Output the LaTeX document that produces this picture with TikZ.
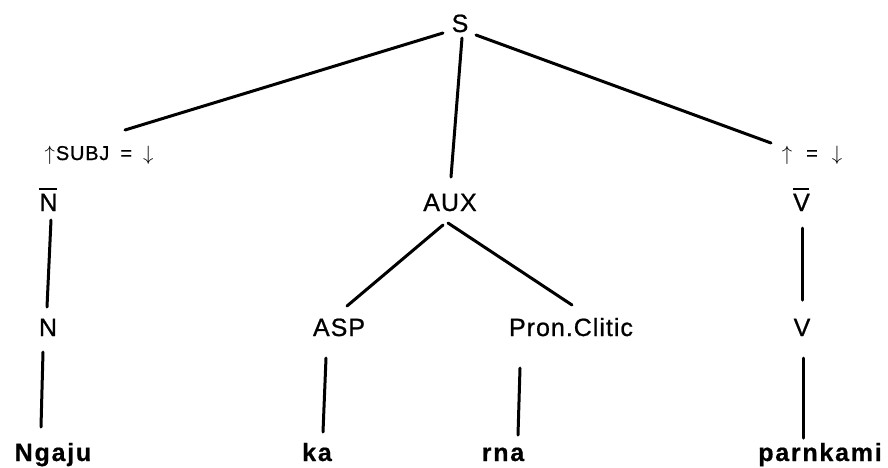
\documentclass[tikz,border=0pt]{standalone}
\usepackage{fontspec}
\setmainfont{Liberation Sans}[LetterSpace=4,FakeBold=0.8]
\newfontfamily\wrdfont{Liberation Sans}[LetterSpace=7,FakeBold=0.6]
\newcommand{\ovl}[1]{\leavevmode\vbox{\hrule height 1.8pt\kern 4pt\hbox{#1\hspace{-1pt}}}}
\begin{document}
\begin{tikzpicture}[x=1pt,y=-1pt,
  lab/.style={inner sep=0pt,anchor=base,font=\fontsize{25}{30}\selectfont},
  ann/.style={inner sep=0pt,anchor=base,font=\fontsize{20}{24}\selectfont},
  wrd/.style={inner sep=0pt,anchor=base,font=\fontsize{25}{30}\selectfont\wrdfont\bfseries},
  edge/.style={line width=3pt,line cap=round}]
\useasboundingbox (0,0) rectangle (888,467);
% nodes
\node[lab] (S) at (460,32) {S};
\node[ann] (subj) at (99,160) {$\uparrow$\hspace{1pt}SUBJ\hspace{11pt}=\hspace{11pt}$\downarrow$};
\node[ann] (eq) at (812,160) {$\uparrow$\hspace{14pt}=\hspace{14pt}$\downarrow$};
\node[lab] (Nbar) at (48,211) {\ovl{N}};
\node[lab] (AUX) at (450,211) {AUX};
\node[lab] (Vbar) at (801,211) {\ovl{V}};
\node[lab] (N) at (48,336) {N};
\node[lab] (ASP) at (339,336) {ASP};
\node[lab] (Pron) at (571,336) {Pron.Clitic};
\node[lab] (V) at (802,336) {V};
\node[wrd] (Ngaju) at (53,461) {Ngaju};
\node[wrd] (ka) at (317,461) {ka};
\node[wrd] (rna) at (503,461) {rna};
\node[wrd] (parnkami) at (820,461) {parnkami};
% connectors
\draw[edge] ([shift={(-17,1)}]S.base) -- ([shift={(26,-30)}]subj.base);
\draw[edge] ([shift={(2,6)}]S.base) -- ([shift={(1,-34)}]AUX.base);
\draw[edge] ([shift={(16,3)}]S.base) -- ([shift={(-41,-17)}]eq.base);
\draw[edge] ([shift={(3,9)}]Nbar.base) -- ([shift={(-1,-29)}]N.base);
\draw[edge] ([shift={(-5,16)}]N.base) -- ([shift={(-12,-34)}]Ngaju.base);
\draw[edge] ([shift={(-7,14)}]AUX.base) -- ([shift={(8,-30)}]ASP.base);
\draw[edge] ([shift={(-2,12)}]AUX.base) -- ([shift={(1,-31)}]Pron.base);
\draw[edge] ([shift={(-13,22)}]ASP.base) -- ([shift={(6,-29)}]ka.base);
\draw[edge] ([shift={(-51,32)}]Pron.base) -- ([shift={(15,-26)}]rna.base);
\draw[edge] ([shift={(1,17)}]Vbar.base) -- ([shift={(0,-36)}]V.base);
\draw[edge] ([shift={(1,22)}]V.base) -- ([shift={(-17,-23)}]parnkami.base);
\end{tikzpicture}
\end{document}
